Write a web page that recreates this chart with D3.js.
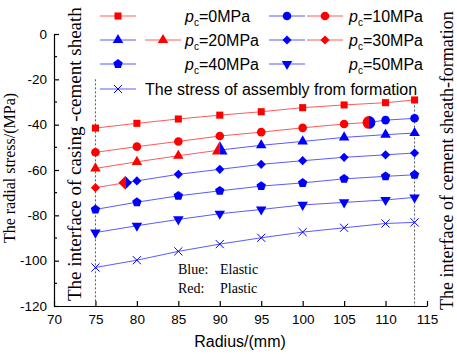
<!DOCTYPE html>
<html>
<head>
<meta charset="utf-8">
<script src="https://cdn.jsdelivr.net/npm/d3@7"></script>
<style>
  body { margin: 0; background: #fff; }
  svg { display: block; }
  .tick text { font-family: 'Liberation Sans', Arial, sans-serif; font-size: 13.5px; fill: #000; }
  .axis path, .axis line { stroke: #000; stroke-width: 1.2; }
</style>
</head>
<body>
<svg width="457" height="354"></svg>
<script>
// radius (mm) of the computed points
const radius = [75, 80, 85, 90, 95, 100, 105, 110, 113.5];

// radial stress (MPa) for each casing pressure pc
const pc0  = [-41.5, -39.4, -37.5, -35.8, -34.3, -32.5, -31.3, -30.3, -29.1];
const pc10 = [-52.2, -49.7, -47.4, -45.0, -43.3, -41.4, -39.7, -38.0, -37.2];
const pc20 = [-59.3, -56.4, -53.7, -51.2, -49.1, -47.4, -45.6, -44.4, -43.7];
const pc30 = [-67.8, -64.8, -61.9, -59.7, -57.5, -55.9, -54.4, -53.3, -52.5];
const pc40 = [-77.4, -74.2, -71.4, -69.2, -67.1, -65.7, -63.9, -62.8, -62.1];
const pc50 = [-87.6, -84.6, -81.8, -79.3, -77.4, -75.4, -74.3, -73.2, -72.1];
const assembly = [-103.0, -99.8, -95.9, -92.7, -89.9, -87.4, -85.5, -83.6, -83.1];

// elastic/plastic boundary radius and stress (null = no boundary)
const yieldRadius = [115, 108, 90, 78.6, null, null];
const yieldStress = [null, -39.0, -51.2, -65.6, null, null];

const xTicks = [70, 75, 80, 85, 90, 95, 100, 105, 110, 115];
const yTicks = [0, -20, -40, -60, -80, -100, -120];
const yMinor = [-10, -30, -50, -70, -90, -110];

const svg = d3.select('svg');
const RED = '#ff0000', BLUE = '#0000ff';
const RED_LINE = '#ff5a5a', BLUE_LINE = '#5a5aff';
const SANS = "'Liberation Sans', Arial, sans-serif";
const SERIF = "'Liberation Serif', 'Times New Roman', serif";

const x = d3.scaleLinear().domain([70, 115]).range([54, 427]);
const y = d3.scaleLinear().domain([-120, 0]).range([306, 34]);

// pentagon symbol
const symbolPentagon = {
  draw(ctx, size) {
    const r = Math.sqrt(size / 2.378);
    for (let i = 0; i < 5; i++) {
      const a = -Math.PI / 2 + i * 2 * Math.PI / 5;
      const px = r * Math.cos(a), py = r * Math.sin(a);
      if (i === 0) ctx.moveTo(px, py); else ctx.lineTo(px, py);
    }
    ctx.closePath();
  }
};

const markers = [
  { type: d3.symbolSquare, size: 50, rot: 0 },
  { type: d3.symbolCircle, size: 58, rot: 0 },
  { type: d3.symbolTriangle, size: 48, rot: 0 },
  { type: d3.symbolSquare, size: 42, rot: 45 },
  { type: symbolPentagon, size: 58, rot: 0 },
  { type: d3.symbolTriangle, size: 48, rot: 180 },
  { type: d3.symbolX, size: 45, rot: 0, stroke: true }
];

const series = [pc0, pc10, pc20, pc30, pc40, pc50];

function drawMarker(g, m, cx, cy, color, scale) {
  const p = g.append('path')
    .attr('d', d3.symbol().type(m.type).size(m.size * (scale || 1))())
    .attr('transform', `translate(${cx},${cy}) rotate(${m.rot})`);
  if (m.stroke) p.attr('fill', 'none').attr('stroke', color).attr('stroke-width', 1);
  else p.attr('fill', color);
  return p;
}

// axes
const xAxis = d3.axisBottom(x).tickValues(xTicks).tickFormat(d => String(d))
  .tickSize(-5).tickSizeOuter(0).tickPadding(8);
svg.append('g').attr('class', 'axis')
  .attr('transform', `translate(0,${y(-120)})`)
  .call(xAxis);

const yAxis = d3.axisLeft(y).tickValues(yTicks).tickFormat(d => String(d))
  .tickSize(-5).tickSizeOuter(0).tickPadding(7);
const yG = svg.append('g').attr('class', 'axis')
  .attr('transform', `translate(${x(70)},0)`)
  .call(yAxis);
yG.selectAll('.minor').data(yMinor).enter().append('line')
  .attr('x1', 0).attr('x2', 3)
  .attr('y1', d => y(d)).attr('y2', d => y(d))
  .attr('stroke', '#000').attr('stroke-width', 1.2);

// interface lines
svg.append('line')
  .attr('x1', x(75)).attr('x2', x(75)).attr('y1', y(-20)).attr('y2', y(-120))
  .attr('stroke', '#555').attr('stroke-width', 1).attr('stroke-dasharray', '2,2');
svg.append('line')
  .attr('x1', x(113.5)).attr('x2', x(113.5)).attr('y1', y(-28)).attr('y2', y(-120))
  .attr('stroke', '#555').attr('stroke-width', 1).attr('stroke-dasharray', '2,2');

// clip paths for half red / half blue transition markers
const defs = svg.append('defs');
defs.append('clipPath').attr('id', 'leftHalf')
  .append('rect').attr('x', -20).attr('y', -20).attr('width', 20).attr('height', 40);
defs.append('clipPath').attr('id', 'rightHalf')
  .append('rect').attr('x', 0).attr('y', -20).attr('width', 20).attr('height', 40);

const line = d3.line().x(d => x(d[0])).y(d => y(d[1]));
const plot = svg.append('g');

// assembly stress
const asmPts = radius.map((r, i) => [r, assembly[i]]);
plot.append('path').attr('d', line(asmPts)).attr('fill', 'none')
  .attr('stroke', BLUE_LINE).attr('stroke-width', 1);
asmPts.forEach(p => drawMarker(plot, markers[6], x(p[0]), y(p[1]), BLUE));

series.forEach((vals, k) => {
  const pts = radius.map((r, i) => [r, vals[i]]);
  const yr = yieldRadius[k];
  const ys = yieldStress[k];
  let redPts, bluePts;
  if (yr === null) { redPts = []; bluePts = pts; }
  else if (ys === null) { redPts = pts; bluePts = []; }
  else {
    const tp = [yr, ys];
    redPts = pts.filter(p => p[0] < yr).concat([tp]);
    bluePts = [tp].concat(pts.filter(p => p[0] > yr));
  }
  if (redPts.length > 1)
    plot.append('path').attr('d', line(redPts)).attr('fill', 'none')
      .attr('stroke', RED_LINE).attr('stroke-width', 1);
  if (bluePts.length > 1)
    plot.append('path').attr('d', line(bluePts)).attr('fill', 'none')
      .attr('stroke', BLUE_LINE).attr('stroke-width', 1);
  pts.forEach(p => {
    if (yr !== null && ys !== null && p[0] === yr) return;
    const red = yr !== null && (ys === null || p[0] < yr);
    drawMarker(plot, markers[k], x(p[0]), y(p[1]), red ? RED : BLUE);
  });
  if (yr !== null && ys !== null) {
    // boundary point: enlarged marker, left half red, right half blue
    const g = plot.append('g').attr('transform', `translate(${x(yr)},${y(ys)})`);
    const m = markers[k];
    const big = d3.symbol().type(m.type).size(m.size * 2.2)();
    g.append('g').attr('clip-path', 'url(#leftHalf)')
      .append('path').attr('d', big).attr('transform', `rotate(${m.rot})`).attr('fill', RED);
    g.append('g').attr('clip-path', 'url(#rightHalf)')
      .append('path').attr('d', big).attr('transform', `rotate(${m.rot})`).attr('fill', BLUE);
  }
});

// legend
const legend = svg.append('g');
function legendSample(cx, cy, m, color, lineColor) {
  legend.append('line').attr('x1', cx - 18).attr('x2', cx + 18).attr('y1', cy).attr('y2', cy)
    .attr('stroke', lineColor).attr('stroke-width', 1);
  drawMarker(legend, m, cx, cy, color);
}
function pcLabel(tx, ty, val) {
  const t = legend.append('text').attr('x', tx).attr('y', ty)
    .attr('font-family', SANS).attr('font-size', 16).attr('dy', '0.35em');
  t.append('tspan').attr('font-style', 'italic').text('p');
  t.append('tspan').attr('font-size', 10).attr('dy', 4).text('c');
  t.append('tspan').attr('dy', -4).text(`=${val}MPa`);
}
const rows = [16, 40, 64, 89];
legendSample(118, rows[0], markers[0], RED, RED_LINE);
pcLabel(185, rows[0], 0);
legendSample(287, rows[0], markers[1], BLUE, BLUE_LINE);
legendSample(325, rows[0], markers[1], RED, RED_LINE);
pcLabel(349, rows[0], 10);
legendSample(118, rows[1], markers[2], BLUE, BLUE_LINE);
legendSample(163, rows[1], markers[2], RED, RED_LINE);
pcLabel(185, rows[1], 20);
legendSample(287, rows[1], markers[3], BLUE, BLUE_LINE);
legendSample(325, rows[1], markers[3], RED, RED_LINE);
pcLabel(349, rows[1], 30);
legendSample(118, rows[2], markers[4], BLUE, BLUE_LINE);
pcLabel(185, rows[2], 40);
legendSample(287, rows[2], markers[5], BLUE, BLUE_LINE);
pcLabel(349, rows[2], 50);
legendSample(118, rows[3], markers[6], BLUE, BLUE_LINE);
legend.append('text').attr('x', 145).attr('y', rows[3]).attr('dy', '0.35em')
  .attr('font-family', SANS).attr('font-size', 16).text('The stress of assembly from formation');

// annotations
svg.append('text').attr('x', 178).attr('y', 274).attr('font-family', SERIF).attr('font-size', 14).text('Blue:');
svg.append('text').attr('x', 220).attr('y', 274).attr('font-family', SERIF).attr('font-size', 14).text('Elastic');
svg.append('text').attr('x', 178).attr('y', 293).attr('font-family', SERIF).attr('font-size', 14).text('Red:');
svg.append('text').attr('x', 220).attr('y', 293).attr('font-family', SERIF).attr('font-size', 14).text('Plastic');

svg.append('text')
  .attr('transform', 'translate(81,301) rotate(-90)')
  .attr('font-family', SERIF).attr('font-size', 19)
  .text('The interface of casing -cement sheath');
svg.append('text')
  .attr('transform', 'translate(453,310) rotate(-90)')
  .attr('font-family', SERIF).attr('font-size', 18)
  .text('The interface of cement sheath-formation');

// axis titles
svg.append('text')
  .attr('transform', 'translate(15,168) rotate(-90)')
  .attr('text-anchor', 'middle')
  .attr('font-family', SERIF).attr('font-size', 16)
  .text('The radial stress/(MPa)');
svg.append('text')
  .attr('x', 240).attr('y', 347).attr('text-anchor', 'middle')
  .attr('font-family', SANS).attr('font-size', 16)
  .text('Radius/(mm)');
</script>
</body>
</html>
